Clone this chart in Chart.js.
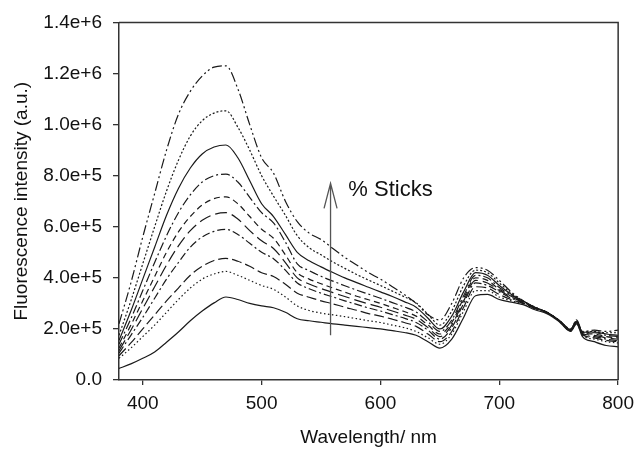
<!DOCTYPE html>
<html>
<head>
<meta charset="utf-8">
<script src="https://cdn.jsdelivr.net/npm/chart.js@4.4.1/dist/chart.umd.min.js"></script>
<style>
  body { margin: 0; background: #fff; }
  #wrap { width: 641px; height: 449px; }
</style>
</head>
<body>
<div id="wrap"><canvas id="myChart" width="641" height="449"></canvas></div>
<script>
// wavelengths (nm)
var wavelengths = [380,390,400,410,420,430,440,450,460,470,480,490,500,510,520,530,540,550,560,570,580,590,600,610,620,630,640,650,660,670,680,690,700,710,720,730,740,750,760,765,770,780,790,800];

// intensities, in units of 1e6 a.u., bottom curve first
var curve1 = [.045,.063,.085,.11,.148,.188,.232,.27,.302,.325,.315,.30,.29,.283,.265,.24,.232,.226,.22,.215,.21,.205,.2,.193,.186,.175,.15,.125,.16,.245,.33,.335,.315,.305,.295,.275,.26,.23,.19,.22,.17,.15,.135,.13];
var curve2 = [.085,.125,.17,.215,.265,.315,.36,.395,.415,.425,.41,.39,.37,.355,.325,.29,.272,.262,.255,.248,.24,.232,.225,.215,.205,.19,.165,.14,.18,.27,.35,.35,.325,.31,.297,.278,.262,.232,.192,.222,.175,.16,.15,.145];
var curve3 = [.095,.145,.2,.255,.31,.36,.41,.445,.468,.476,.465,.445,.42,.405,.375,.34,.324,.31,.298,.285,.273,.26,.25,.238,.225,.21,.18,.15,.19,.285,.365,.36,.335,.315,.3,.28,.263,.233,.193,.224,.178,.165,.155,.15];
var curve4 = [.105,.175,.245,.32,.395,.46,.52,.56,.582,.59,.57,.535,.5,.475,.43,.38,.357,.34,.325,.31,.296,.282,.27,.256,.242,.225,.195,.16,.205,.3,.38,.37,.345,.32,.302,.281,.264,.234,.194,.225,.18,.17,.16,.155];
var curve5 = [.115,.195,.28,.365,.45,.525,.585,.625,.648,.655,.63,.585,.545,.515,.46,.4,.376,.358,.342,.327,.312,.298,.285,.27,.255,.238,.205,.17,.215,.31,.39,.38,.35,.325,.304,.282,.265,.234,.195,.226,.182,.175,.165,.16];
var curve6 = [.125,.215,.31,.405,.5,.58,.64,.685,.71,.717,.69,.64,.59,.555,.49,.42,.395,.377,.36,.344,.328,.314,.3,.284,.268,.25,.215,.18,.225,.32,.4,.39,.355,.328,.305,.283,.265,.234,.196,.228,.184,.18,.17,.165];
var curve7 = [.14,.24,.35,.46,.565,.655,.725,.775,.8,.806,.775,.715,.655,.615,.54,.455,.428,.406,.387,.369,.352,.336,.32,.303,.286,.266,.228,.19,.235,.33,.41,.4,.362,.332,.307,.284,.265,.234,.197,.229,.186,.185,.175,.17];
var curve8 = [.155,.27,.395,.52,.645,.75,.83,.885,.912,.92,.87,.78,.69,.64,.57,.5,.467,.443,.421,.4,.381,.363,.345,.327,.307,.285,.242,.2,.25,.345,.42,.41,.37,.336,.308,.285,.265,.235,.198,.23,.187,.188,.18,.175];
var curve9 = [.175,.31,.455,.6,.74,.86,.955,1.015,1.045,1.054,.99,.9,.8,.72,.645,.565,.518,.49,.462,.437,.413,.391,.37,.348,.326,.302,.257,.215,.27,.37,.43,.42,.38,.34,.31,.285,.265,.235,.199,.232,.188,.19,.185,.185];
var curve10 = [.22,.38,.56,.73,.9,1.04,1.13,1.19,1.225,1.23,1.14,1.0,.87,.81,.70,.62,.575,.55,.515,.48,.45,.42,.395,.365,.335,.3,.255,.235,.3,.4,.44,.43,.39,.345,.31,.285,.265,.235,.2,.235,.19,.195,.19,.195];

var xTicks = [400, 500, 600, 700, 800];
var yTicks = [0, 0.2, 0.4, 0.6, 0.8, 1.0, 1.2, 1.4];
var yTickLabels = ['0.0', '2.0e+5', '4.0e+5', '6.0e+5', '8.0e+5', '1.0e+6', '1.2e+6', '1.4e+6'];

var curves = [curve1, curve2, curve3, curve4, curve5, curve6, curve7, curve8, curve9, curve10];
var dashes = [[], [1.5, 2.5], [10, 4], [8, 3, 2, 3], [12, 5], [6, 4], [9, 3, 2, 3], [], [2, 2], [10, 3, 2, 3, 2, 3]];

var fontName = '"Liberation Sans", Arial, sans-serif';

var datasets = [];
for (var i = 0; i < curves.length; i++) {
    var pts = [];
    for (var j = 0; j < wavelengths.length; j++) {
        pts.push({ x: wavelengths[j], y: curves[i][j] });
    }
    datasets.push({
        data: pts,
        borderColor: '#1a1a1a',
        borderWidth: 1.2,
        borderDash: dashes[i],
        pointRadius: 0,
        fill: false,
        cubicInterpolationMode: 'monotone'
    });
}

// frame box, arrow and "% Sticks" note
var extras = {
    id: 'extras',
    afterDraw: function (chart) {
        var ctx = chart.ctx;
        var a = chart.chartArea;
        var xs = chart.scales.x, ys = chart.scales.y;
        ctx.save();
        ctx.strokeStyle = '#333';
        ctx.lineWidth = 1.5;
        ctx.beginPath();
        ctx.moveTo(a.left, a.top);
        ctx.lineTo(a.right, a.top);
        ctx.lineTo(a.right, a.bottom);
        ctx.stroke();

        var ax = xs.getPixelForValue(558);
        var y0 = ys.getPixelForValue(0.175);
        var y1 = ys.getPixelForValue(0.77);
        ctx.strokeStyle = '#555';
        ctx.lineWidth = 1.3;
        ctx.beginPath();
        ctx.moveTo(ax, y0);
        ctx.lineTo(ax, y1);
        ctx.moveTo(ax - 6.5, y1 + 25);
        ctx.lineTo(ax, y1);
        ctx.lineTo(ax + 6.5, y1 + 25);
        ctx.stroke();

        ctx.fillStyle = '#111';
        ctx.font = '22px ' + fontName;
        ctx.textBaseline = 'middle';
        ctx.textAlign = 'left';
        ctx.fillText('% Sticks', xs.getPixelForValue(573), ys.getPixelForValue(0.745));
        ctx.restore();
    }
};

function graph() {
    var ctx = document.getElementById('myChart').getContext('2d');
    var myChart = new Chart(ctx, {
        type: 'line',
        data: { datasets: datasets },
        options: {
            responsive: false,
            animation: false,
            devicePixelRatio: 1,
            layout: { padding: { top: 20, right: 19, left: 0, bottom: 0 } },
            plugins: { legend: { display: false }, tooltip: { enabled: false } },
            scales: {
                x: {
                    type: 'linear',
                    min: 380,
                    max: 800,
                    afterBuildTicks: function (s) { s.ticks = xTicks.map(function (v) { return { value: v }; }); },
                    afterFit: function (s) { s.height = 69; },
                    grid: { drawOnChartArea: false, drawTicks: true, tickLength: 5, color: '#333', lineWidth: 1.3 },
                    border: { display: true, color: '#333', width: 1.5 },
                    ticks: { color: '#111', font: { family: fontName, size: 19 }, padding: 7, maxRotation: 0 },
                    title: { display: true, text: 'Wavelength/ nm', color: '#111', font: { family: fontName, size: 19 }, padding: { top: 0, bottom: 0 } }
                },
                y: {
                    type: 'linear',
                    min: 0,
                    max: 1.4,
                    afterBuildTicks: function (s) { s.ticks = yTicks.map(function (v) { return { value: v }; }); },
                    afterFit: function (s) { s.width = 119; },
                    grid: { drawOnChartArea: false, drawTicks: true, tickLength: 6, color: '#333', lineWidth: 1.3 },
                    border: { display: true, color: '#333', width: 1.5 },
                    ticks: {
                        color: '#111',
                        font: { family: fontName, size: 19 },
                        padding: 11,
                        callback: function (v, idx) { return yTickLabels[idx]; }
                    },
                    title: { display: true, text: 'Fluorescence intensity (a.u.)', color: '#111', font: { family: fontName, size: 19 }, padding: { top: 10, bottom: 0 } }
                }
            }
        },
        plugins: [extras]
    });
}

graph();
</script>
</body>
</html>
